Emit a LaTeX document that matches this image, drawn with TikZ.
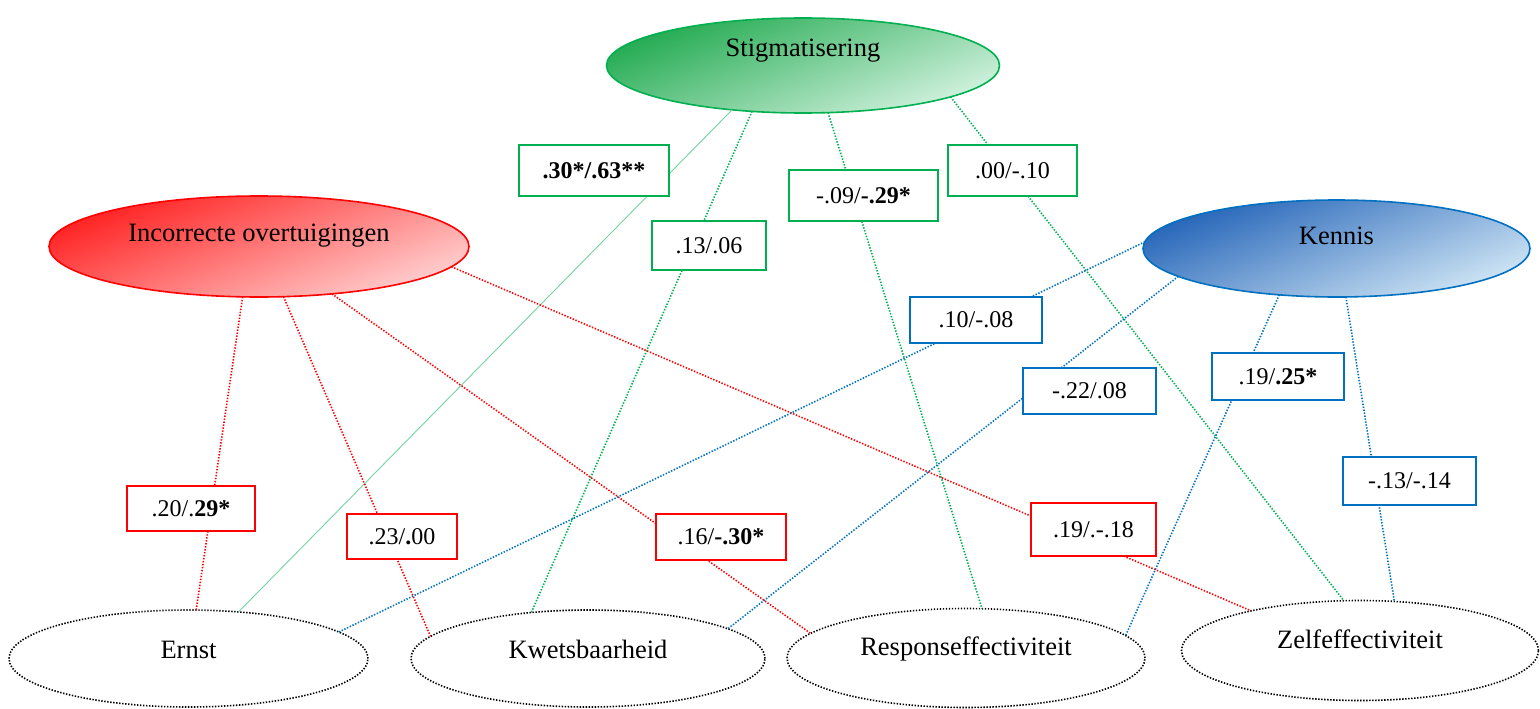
\documentclass[tikz,border=0pt]{standalone}
\usepackage{fontspec}
\setmainfont{Liberation Serif}
\usetikzlibrary{shapes.geometric}
\definecolor{cgreen}{HTML}{00B050}
\definecolor{cred}{HTML}{FF0000}
\definecolor{cblue}{HTML}{0070C0}
\definecolor{gdark}{HTML}{22AA50}
\definecolor{glight}{HTML}{D2F2DF}
\definecolor{rdark}{HTML}{FF2020}
\definecolor{rlight}{HTML}{FFD0D0}
\definecolor{bdark}{HTML}{2464B8}
\definecolor{blight}{HTML}{D0E6F5}
\tikzset{
  latent/.style={ellipse, inner sep=0pt, outer sep=0pt, line width=1.6pt},
  outcome/.style={ellipse, inner sep=0pt, outer sep=0pt, draw=black, line width=1.6pt, dash pattern=on 1.4pt off 1.6pt},
  bigtxt/.style={font=\fontsize{26.5}{30}\selectfont, inner sep=0pt},
  coef/.style={rectangle, draw, fill=white, line width=2.2pt, inner sep=0pt, font=\fontsize{24}{28}\selectfont},
  gcoef/.style={coef, draw=cgreen},
  rcoef/.style={coef, draw=cred},
  bcoef/.style={coef, draw=cblue},
  dotline/.style={line width=1.6pt, dash pattern=on 1.4pt off 1.6pt},
}
\begin{document}
\begin{tikzpicture}[x=1pt, y=-1pt]
\useasboundingbox (0,0) rectangle (1540,709);

% latent ellipses
\node[latent, draw=cgreen, top color=gdark, bottom color=glight, shading angle=22, minimum width=393pt, minimum height=95pt] (stig) at (803,65.5) {};
\node[latent, draw=cred, top color=rdark, bottom color=rlight, shading angle=22, minimum width=420pt, minimum height=101pt] (inc) at (259,246.5) {};
\node[latent, draw=cblue, top color=bdark, bottom color=blight, shading angle=22, minimum width=387pt, minimum height=97pt] (ken) at (1336.5,248.5) {};
\node[bigtxt] (stigt) at ([yshift=15pt]stig.center) {Stigmatisering};
\node[bigtxt] (inct) at ([yshift=11pt]inc.center) {Incorrecte overtuigingen};
\node[bigtxt] (kent) at ([yshift=13pt]ken.center) {Kennis};

% outcome ellipses
\node[outcome, minimum width=359pt, minimum height=97pt] (ernst) at (188.5,658.5) {};
\node[outcome, minimum width=354pt, minimum height=97pt] (kwets) at (588,658.5) {};
\node[outcome, minimum width=358pt, minimum height=99pt] (resp) at (966,658) {};
\node[outcome, minimum width=357pt, minimum height=100pt] (zelf) at (1360,650.5) {};
\node[bigtxt] (ernstt) at ([yshift=9pt]ernst.center) {Ernst};
\node[bigtxt] (kwetst) at ([yshift=9pt]kwets.center) {Kwetsbaarheid};
\node[bigtxt] (respt) at ([yshift=9pt]resp.center) {Responseffectiviteit};
\node[bigtxt] (zelft) at ([yshift=11pt]zelf.center) {Zelfeffectiviteit};

% connectors: Stigmatisering
\draw[cgreen!55, line width=0.9pt] (stig.212) -- (ernst.43);
\draw[cgreen, dotline] (stig.222) -- (kwets.141);
\draw[cgreen, dotline] (stig.298) -- (resp.72);
\draw[cgreen, dotline] (stig.348) -- (zelf.108);
% connectors: Incorrecte overtuigingen
\draw[cred, dotline] (inc.252) -- (ernst.81);
\draw[cred, dotline] (inc.296) -- (kwets.172);
\draw[cred, dotline] (inc.327) -- (resp.171);
\draw[cred, dotline] (inc.354) -- (zelf.160);
% connectors: Kennis
\draw[cblue, dotline] (ken.178) -- (ernst.10);
\draw[cblue, dotline] (ken.190.5) -- (kwets.12);
\draw[cblue, dotline] (ken.219) -- (resp.8.5);
\draw[cblue, dotline] (ken.281) -- (zelf.55);

% coefficient boxes
\node[gcoef, minimum width=150pt, minimum height=51pt] (g1) at (594,170.5) {\textbf{.30*/.63**}};
\node[gcoef, minimum width=114pt, minimum height=49pt] (g2) at (709,245.5) {.13/.06};
\node[gcoef, minimum width=149pt, minimum height=51pt] (g3) at (863.5,195.5) {-.09/\textbf{-.29*}};
\node[gcoef, minimum width=129pt, minimum height=51pt] (g4) at (1012.5,170.5) {.00/-.10};

\node[rcoef, minimum width=128pt, minimum height=45pt] (r1) at (191,508.5) {.20/.\textbf{29*}};
\node[rcoef, minimum width=110pt, minimum height=45pt] (r2) at (402,536.5) {.23/\textbf{.}00};
\node[rcoef, minimum width=130pt, minimum height=46pt] (r3) at (721,537) {.16/\textbf{-.30*}};
\node[rcoef, minimum width=125pt, minimum height=53pt] (r4) at (1093.5,529.5) {.19/.-.18};

\node[bcoef, minimum width=132pt, minimum height=46pt] (b1) at (976,320) {.10/-.08};
\node[bcoef, minimum width=133pt, minimum height=46pt] (b2) at (1089.5,391) {-.22/.08};
\node[bcoef, minimum width=132pt, minimum height=47pt] (b3) at (1278,376.5) {.19/\textbf{.25*}};
\node[bcoef, minimum width=133pt, minimum height=48pt] (b4) at (1409.5,481) {-.13/-.14};
\end{tikzpicture}
\end{document}
